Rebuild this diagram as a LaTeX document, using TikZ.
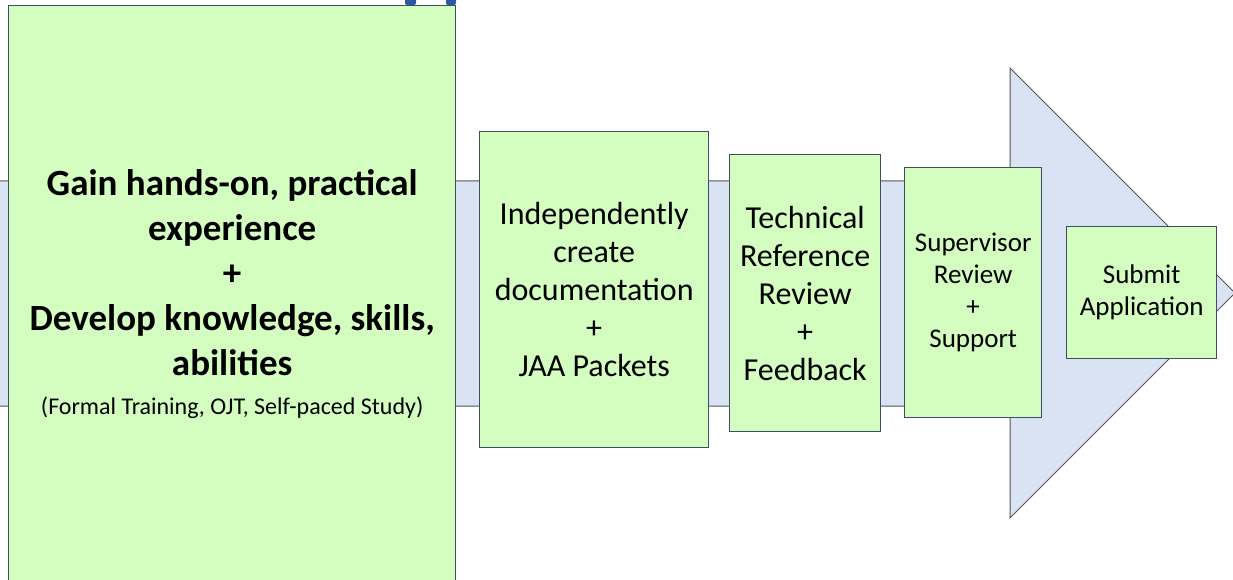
\documentclass[tikz,border=0pt]{standalone}
\usepackage{fontspec}
\setmainfont{Carlito}
\usetikzlibrary{positioning}
\definecolor{stagegreen}{HTML}{D4FDC0}
\definecolor{stageline}{HTML}{3E4D63}
\definecolor{flowfill}{HTML}{DAE3F3}
\definecolor{flowline}{HTML}{555555}
\definecolor{titleblue}{HTML}{2F55A5}

\begin{document}
\begin{tikzpicture}[
			x=1pt, y=-1pt,
			stage/.style={draw=stageline, line width=1.4pt, fill=stagegreen, align=center, inner sep=0pt, anchor=north west},
			bigtext/.style={font=\fontsize{37}{45}\selectfont\bfseries},
			midtext/.style={font=\fontsize{32}{38}\selectfont},
			smalltext/.style={font=\fontsize{27}{32}\selectfont},
			flow/.style={draw=flowline, line width=1pt, fill=flowfill}
			]
			\useasboundingbox (0,0) rectangle (1233,580);
			\clip (0,0) rectangle (1233,580);
			
			% Big arrow behind the boxes
			\draw [flow] (-5,181) -- (1010,181) -- (1010,68) -- (1235,293) -- (1010,518) -- (1010,406) -- (-5,406) -- cycle;
			
			% Cut-off title letters
			\fill [titleblue, rounded corners=2pt] (405,-4) rectangle (416,5);
			\fill [titleblue, rounded corners=2pt] (446,-4) rectangle (456,5);
			
			% Nodes
			\node (gain) [stage, bigtext, minimum width=447pt, minimum height=577pt] at (8,5)
				{Gain hands-on, practical\\experience\\+\\Develop knowledge, skills,\\abilities\\[-6pt]{\fontsize{24}{28}\selectfont\mdseries (Formal Training, OJT, Self-paced Study)}};
			\node (create) [stage, midtext, minimum width=229pt, minimum height=316pt] at (479,131)
				{Independently\\create\\documentation\\+\\JAA Packets};
			\node (techreview) [stage, midtext, minimum width=151pt, minimum height=277pt] at (729,154)
				{Technical\\Reference\\Review\\+\\Feedback};
			\node (supervisor) [stage, smalltext, minimum width=137pt, minimum height=250pt] at (904,167)
				{Supervisor\\Review\\+\\Support};
			\node (submit) [stage, smalltext, minimum width=150pt, minimum height=132pt] at (1066,226)
				{Submit\\Application};
			
		\end{tikzpicture}
\end{document}
